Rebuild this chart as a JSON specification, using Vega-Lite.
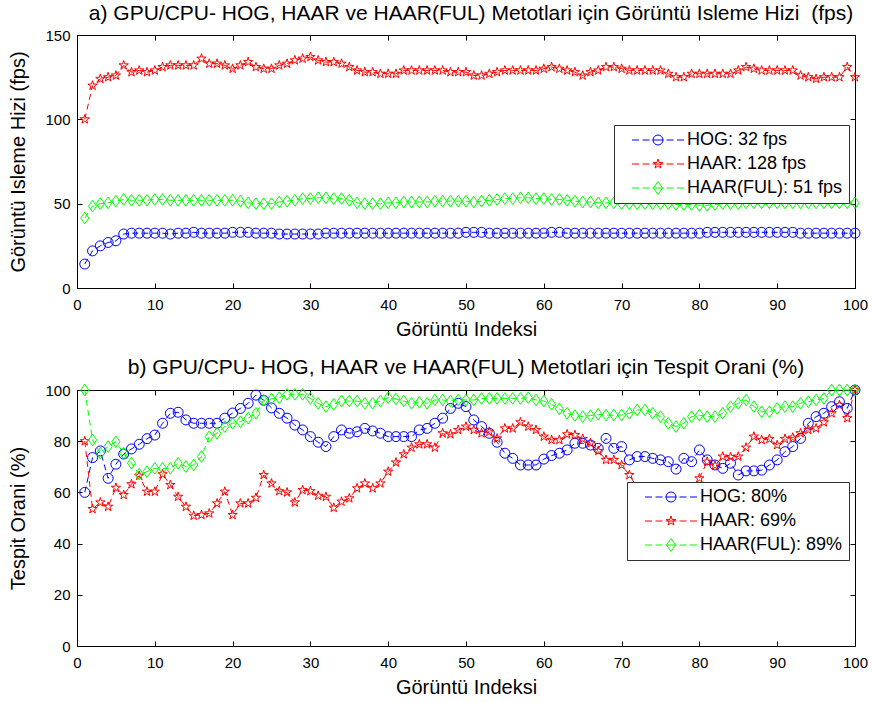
{
  "$schema": "https://vega.github.io/schema/vega-lite/v6.json",
  "background": "white",
  "padding": {"left": 8, "top": 2, "right": 5, "bottom": 5},
  "spacing": 102,
  "bounds": "flush",
  "resolve": {"scale": {"color": "independent", "shape": "independent"}},
  "datasets": {
    "fps": [
      {"x":1,"hog":14.2,"haar":100,"ful":41.5},{"x":2,"hog":22,"haar":120,"ful":48.5},{"x":3,"hog":25,"haar":124,"ful":50},{"x":4,"hog":27,"haar":125,"ful":50.5},{"x":5,"hog":28,"haar":126,"ful":51.5},
      {"x":6,"hog":32,"haar":132,"ful":52.5},{"x":7,"hog":32.5,"haar":128,"ful":52},{"x":8,"hog":32.5,"haar":129,"ful":52},{"x":9,"hog":32.5,"haar":128,"ful":52},{"x":10,"hog":32.5,"haar":129,"ful":52.5},
      {"x":11,"hog":32.5,"haar":131,"ful":52.5},{"x":12,"hog":32,"haar":132,"ful":52},{"x":13,"hog":32.5,"haar":132,"ful":52},{"x":14,"hog":32.5,"haar":132,"ful":52},{"x":15,"hog":33,"haar":132,"ful":52},
      {"x":16,"hog":32.5,"haar":136,"ful":52},{"x":17,"hog":32.5,"haar":133,"ful":52},{"x":18,"hog":32.5,"haar":133,"ful":52},{"x":19,"hog":32.5,"haar":132,"ful":52},{"x":20,"hog":33,"haar":130,"ful":52},
      {"x":21,"hog":33,"haar":132,"ful":51.5},{"x":22,"hog":33,"haar":134,"ful":50.5},{"x":23,"hog":32.5,"haar":131,"ful":50},{"x":24,"hog":32.5,"haar":130,"ful":50},{"x":25,"hog":32.5,"haar":130,"ful":50},
      {"x":26,"hog":32,"haar":132,"ful":51},{"x":27,"hog":32,"haar":133,"ful":51.5},{"x":28,"hog":32,"haar":135,"ful":52},{"x":29,"hog":32,"haar":136,"ful":53},{"x":30,"hog":32,"haar":137,"ful":53},
      {"x":31,"hog":32,"haar":135,"ful":53.5},{"x":32,"hog":32.5,"haar":134,"ful":53.5},{"x":33,"hog":32.5,"haar":134,"ful":53},{"x":34,"hog":32.5,"haar":133,"ful":53},{"x":35,"hog":32.5,"haar":131,"ful":52},
      {"x":36,"hog":32.5,"haar":129,"ful":50.5},{"x":37,"hog":32.5,"haar":128,"ful":50},{"x":38,"hog":32.5,"haar":128,"ful":50},{"x":39,"hog":32.5,"haar":127,"ful":50},{"x":40,"hog":32.5,"haar":127,"ful":50.5},
      {"x":41,"hog":32.5,"haar":127,"ful":50.5},{"x":42,"hog":32.5,"haar":129,"ful":51},{"x":43,"hog":32.5,"haar":129,"ful":51},{"x":44,"hog":32.5,"haar":129,"ful":51},{"x":45,"hog":32.5,"haar":129,"ful":51},
      {"x":46,"hog":32.5,"haar":129,"ful":51.5},{"x":47,"hog":32.5,"haar":129,"ful":51.5},{"x":48,"hog":32.5,"haar":128,"ful":51.5},{"x":49,"hog":32.5,"haar":128,"ful":51.5},{"x":50,"hog":33,"haar":128,"ful":51.5},
      {"x":51,"hog":33,"haar":126,"ful":51},{"x":52,"hog":33,"haar":126,"ful":51.5},{"x":53,"hog":32.5,"haar":127,"ful":52},{"x":54,"hog":32.5,"haar":128,"ful":52.5},{"x":55,"hog":32.5,"haar":129,"ful":53},
      {"x":56,"hog":32.5,"haar":129,"ful":53},{"x":57,"hog":32.5,"haar":129,"ful":53.5},{"x":58,"hog":32.5,"haar":129,"ful":53.5},{"x":59,"hog":32.5,"haar":129,"ful":53},{"x":60,"hog":32.5,"haar":130,"ful":53},
      {"x":61,"hog":33,"haar":131,"ful":52.5},{"x":62,"hog":33,"haar":130,"ful":52.5},{"x":63,"hog":32.5,"haar":129,"ful":52},{"x":64,"hog":32.5,"haar":128,"ful":51.5},{"x":65,"hog":32.5,"haar":126,"ful":51},
      {"x":66,"hog":32.5,"haar":128,"ful":51},{"x":67,"hog":32.5,"haar":129,"ful":50.5},{"x":68,"hog":32.5,"haar":131,"ful":50.5},{"x":69,"hog":32.5,"haar":131,"ful":50.5},{"x":70,"hog":32.5,"haar":130,"ful":50},
      {"x":71,"hog":32.5,"haar":129,"ful":50},{"x":72,"hog":32.5,"haar":129,"ful":50},{"x":73,"hog":32.5,"haar":129,"ful":50},{"x":74,"hog":32.5,"haar":129,"ful":50},{"x":75,"hog":32.5,"haar":129,"ful":50},
      {"x":76,"hog":32.5,"haar":127,"ful":50},{"x":77,"hog":32.5,"haar":125,"ful":49.5},{"x":78,"hog":32.5,"haar":125,"ful":49.5},{"x":79,"hog":32.5,"haar":127,"ful":49.5},{"x":80,"hog":32.5,"haar":127,"ful":49},
      {"x":81,"hog":33,"haar":127,"ful":49},{"x":82,"hog":33,"haar":127,"ful":49.5},{"x":83,"hog":33,"haar":127,"ful":50},{"x":84,"hog":33,"haar":127,"ful":50},{"x":85,"hog":33,"haar":129,"ful":50},
      {"x":86,"hog":33,"haar":131,"ful":50.5},{"x":87,"hog":33,"haar":130,"ful":50.5},{"x":88,"hog":33,"haar":129,"ful":50.5},{"x":89,"hog":33,"haar":129,"ful":50.5},{"x":90,"hog":33,"haar":129,"ful":50.5},
      {"x":91,"hog":33,"haar":129,"ful":50.5},{"x":92,"hog":33,"haar":129,"ful":50.5},{"x":93,"hog":32.5,"haar":126,"ful":50.5},{"x":94,"hog":32.5,"haar":125,"ful":50.5},{"x":95,"hog":32.5,"haar":124,"ful":50.5},
      {"x":96,"hog":32.5,"haar":125,"ful":50.5},{"x":97,"hog":32.5,"haar":125,"ful":50.5},{"x":98,"hog":32.5,"haar":125,"ful":50.5},{"x":99,"hog":32.5,"haar":131,"ful":50.5},{"x":100,"hog":32.5,"haar":125,"ful":50.5}
    ],
    "rate": [
      {"x":1,"hog":60,"haar":80,"ful":100},{"x":2,"hog":73.6,"haar":53.5,"ful":80.5},{"x":3,"hog":76.2,"haar":56.1,"ful":75.3},{"x":4,"hog":65.5,"haar":54.4,"ful":77.9},{"x":5,"hog":71,"haar":61.8,"ful":79.8},
      {"x":6,"hog":75,"haar":59,"ful":75.3},{"x":7,"hog":77,"haar":63.2,"ful":71.4},{"x":8,"hog":78.8,"haar":66.5,"ful":67.1},{"x":9,"hog":81,"haar":60.3,"ful":68.1},{"x":10,"hog":82.4,"haar":60.3,"ful":69.4},
      {"x":11,"hog":87,"haar":67.1,"ful":69.4},{"x":12,"hog":90.9,"haar":62.9,"ful":69.4},{"x":13,"hog":91.3,"haar":58.3,"ful":71.4},{"x":14,"hog":88.3,"haar":54.4,"ful":70.1},{"x":15,"hog":87,"haar":50.9,"ful":70.7},
      {"x":16,"hog":87,"haar":51.2,"ful":74},{"x":17,"hog":87,"haar":51.8,"ful":81.8},{"x":18,"hog":87,"haar":55.7,"ful":83.1},{"x":19,"hog":89,"haar":60.3,"ful":85.7},{"x":20,"hog":91,"haar":51.2,"ful":87},
      {"x":21,"hog":92.8,"haar":55.7,"ful":87.6},{"x":22,"hog":94.8,"haar":55.7,"ful":89},{"x":23,"hog":98,"haar":57.9,"ful":90.9},{"x":24,"hog":96,"haar":66.8,"ful":96},{"x":25,"hog":93,"haar":63.5,"ful":96.5},
      {"x":26,"hog":90.9,"haar":60.5,"ful":97},{"x":27,"hog":89,"haar":60,"ful":98.3},{"x":28,"hog":86.3,"haar":56.1,"ful":98.3},{"x":29,"hog":84.4,"haar":60.9,"ful":98.3},{"x":30,"hog":81.8,"haar":60.5,"ful":96.7},
      {"x":31,"hog":79.6,"haar":58.7,"ful":94.8},{"x":32,"hog":77.9,"haar":58.3,"ful":93.5},{"x":33,"hog":81.8,"haar":54,"ful":94.4},{"x":34,"hog":84.4,"haar":56.4,"ful":95.7},{"x":35,"hog":83.1,"haar":57.7,"ful":95.7},
      {"x":36,"hog":83.7,"haar":61.6,"ful":95.7},{"x":37,"hog":85,"haar":63.5,"ful":94.8},{"x":38,"hog":84,"haar":61.6,"ful":94.8},{"x":39,"hog":83.1,"haar":63.5,"ful":95.7},{"x":40,"hog":81.8,"haar":68.1,"ful":97},
      {"x":41,"hog":81.8,"haar":71.7,"ful":96.5},{"x":42,"hog":81.8,"haar":74.9,"ful":95.7},{"x":43,"hog":81.8,"haar":77.5,"ful":94.8},{"x":44,"hog":84.4,"haar":78.8,"ful":95.2},{"x":45,"hog":85,"haar":78.8,"ful":94.8},
      {"x":46,"hog":87,"haar":77.5,"ful":96.1},{"x":47,"hog":89,"haar":83.1,"ful":96.1},{"x":48,"hog":92.8,"haar":82.7,"ful":95.7},{"x":49,"hog":94.8,"haar":84.4,"ful":96.1},{"x":50,"hog":93.5,"haar":85.7,"ful":96.1},
      {"x":51,"hog":88.3,"haar":84.4,"ful":96.1},{"x":52,"hog":85.7,"haar":83.1,"ful":96.7},{"x":53,"hog":83.1,"haar":83.7,"ful":96.7},{"x":54,"hog":79.6,"haar":81.1,"ful":96.7},{"x":55,"hog":75.3,"haar":85,"ful":96.7},
      {"x":56,"hog":73.3,"haar":85,"ful":96.7},{"x":57,"hog":70.7,"haar":87.4,"ful":96.7},{"x":58,"hog":70.7,"haar":85.7,"ful":97},{"x":59,"hog":70.7,"haar":84.4,"ful":96.1},{"x":60,"hog":73,"haar":81.8,"ful":95.7},
      {"x":61,"hog":74.4,"haar":80.5,"ful":94.4},{"x":62,"hog":75.3,"haar":80.5,"ful":92.6},{"x":63,"hog":76.6,"haar":82.7,"ful":90.9},{"x":64,"hog":79.2,"haar":82.4,"ful":90},{"x":65,"hog":79.2,"haar":80.9,"ful":89.6},
      {"x":66,"hog":78.5,"haar":79.2,"ful":90},{"x":67,"hog":77.2,"haar":76.2,"ful":90.5},{"x":68,"hog":81.1,"haar":72.7,"ful":90.2},{"x":69,"hog":77.2,"haar":72.7,"ful":90.2},{"x":70,"hog":77.9,"haar":70.7,"ful":90.2},
      {"x":71,"hog":72.7,"haar":66.8,"ful":90.9},{"x":72,"hog":74,"haar":62,"ful":92.2},{"x":73,"hog":74,"haar":60,"ful":92.2},{"x":74,"hog":73.3,"haar":57,"ful":90.9},{"x":75,"hog":72.7,"haar":56,"ful":89.6},
      {"x":76,"hog":72,"haar":58,"ful":87},{"x":77,"hog":69.1,"haar":60,"ful":85.7},{"x":78,"hog":73.3,"haar":59,"ful":87},{"x":79,"hog":72,"haar":62,"ful":89.6},{"x":80,"hog":76.6,"haar":65.5,"ful":90.2},
      {"x":81,"hog":72.7,"haar":72,"ful":89.6},{"x":82,"hog":70.7,"haar":70.5,"ful":89.6},{"x":83,"hog":69.4,"haar":74,"ful":90.9},{"x":84,"hog":71.4,"haar":73.8,"ful":93.5},{"x":85,"hog":66.8,"haar":74,"ful":94.8},
      {"x":86,"hog":68.4,"haar":77.5,"ful":96.1},{"x":87,"hog":68.4,"haar":81.8,"ful":93.5},{"x":88,"hog":68.7,"haar":80.5,"ful":91.5},{"x":89,"hog":70.7,"haar":80.9,"ful":91.5},{"x":90,"hog":72.7,"haar":78.5,"ful":92.8},
      {"x":91,"hog":75.9,"haar":80.9,"ful":93.5},{"x":92,"hog":77.9,"haar":81.4,"ful":93.5},{"x":93,"hog":81.1,"haar":83.1,"ful":94.8},{"x":94,"hog":87,"haar":84.4,"ful":95.4},{"x":95,"hog":89.6,"haar":85,"ful":96.1},
      {"x":96,"hog":90.9,"haar":87.4,"ful":96.7},{"x":97,"hog":93.5,"haar":90.9,"ful":100},{"x":98,"hog":95.4,"haar":94.1,"ful":100},{"x":99,"hog":92.8,"haar":89,"ful":100},{"x":100,"hog":100,"haar":100,"ful":100}
    ]
  },
  "vconcat": [
    {
      "width": 778,
      "height": 253,
      "data": {"name": "fps"},
      "title": {"text": "a) GPU/CPU- HOG, HAAR ve HAAR(FUL) Metotlari için Görüntü Isleme Hizi \u00a0(fps)", "dx": 5},
      "resolve": {"axis": {"x": "independent", "y": "independent"}},
      "layer": [
        {"mark": {"type": "line", "color": "#0000ff", "strokeDash": [6, 4], "strokeWidth": 1},
         "encoding": {
           "x": {"field": "x", "type": "quantitative", "scale": {"domain": [0, 100], "nice": false}, "axis": {"values": [0,10,20,30,40,50,60,70,80,90,100], "title": "Görüntü Indeksi"}},
           "y": {"field": "hog", "type": "quantitative", "scale": {"domain": [0, 150], "nice": false}, "axis": {"values": [0,50,100,150], "title": "Görüntü Isleme Hizi (fps)"}}}},
        {"mark": {"type": "line", "color": "#ff0000", "strokeDash": [6, 4], "strokeWidth": 1},
         "encoding": {"x": {"field": "x", "type": "quantitative", "axis": null}, "y": {"field": "haar", "type": "quantitative", "axis": null}}},
        {"mark": {"type": "line", "color": "#00ff00", "strokeDash": [6, 4], "strokeWidth": 1},
         "encoding": {"x": {"field": "x", "type": "quantitative", "axis": null}, "y": {"field": "ful", "type": "quantitative", "axis": null}}},
        {"mark": {"type": "point", "shape": "M-1,0A1,1,0,1,0,1,0A1,1,0,1,0,-1,0Z", "filled": false, "color": "#0000ff", "size": 100, "strokeWidth": 1, "opacity": 1},
         "encoding": {
           "x": {"field": "x", "type": "quantitative", "axis": {"orient": "top", "values": [0,10,20,30,40,50,60,70,80,90,100], "labels": false, "title": null}},
           "y": {"field": "hog", "type": "quantitative", "axis": {"orient": "right", "values": [0,50,100,150], "labels": false, "title": null}}}},
        {"mark": {"type": "point", "shape": "M0,-1L0.225,-0.309L0.951,-0.309L0.363,0.118L0.588,0.809L0,0.382L-0.588,0.809L-0.363,0.118L-0.951,-0.309L-0.225,-0.309Z", "filled": false, "color": "#ff0000", "size": 95, "strokeWidth": 1, "opacity": 1},
         "encoding": {"x": {"field": "x", "type": "quantitative", "axis": null}, "y": {"field": "haar", "type": "quantitative", "axis": null}}},
        {"mark": {"type": "point", "shape": "M0,-1.3L0.9,0L0,1.3L-0.9,0Z", "filled": false, "color": "#00ff00", "size": 81, "strokeWidth": 1, "opacity": 1},
         "encoding": {"x": {"field": "x", "type": "quantitative", "axis": null}, "y": {"field": "ful", "type": "quantitative", "axis": null}}},
        {"transform": [{"fold": ["hog", "haar", "ful"], "as": ["series", "v"]}, {"filter": "datum.x < 0"}],
         "mark": {"type": "point", "filled": false, "strokeWidth": 1, "opacity": 1},
         "encoding": {
           "x": {"field": "x", "type": "quantitative", "axis": null},
           "y": {"field": "v", "type": "quantitative", "axis": null},
           "color": {"field": "series", "type": "nominal", "scale": {"domain": ["hog", "haar", "ful"], "range": ["#0000ff", "#ff0000", "#00ff00"]},
             "legend": {"orient": "none", "legendX": 537, "legendY": 90, "title": null, "labelExpr": "datum.value == 'hog' ? 'HOG: 32 fps' : datum.value == 'haar' ? 'HAAR: 128 fps' : 'HAAR(FUL): 51 fps'"}},
           "shape": {"field": "series", "type": "nominal", "scale": {"domain": ["hog", "haar", "ful"], "range": [
             "M-5.2,0H-3.8M-3.1,0H-1.7M-1.1,0H1.1M1.7,0H3.1M3.8,0H5.2M-1,0A1,1,0,1,0,1,0A1,1,0,1,0,-1,0Z",
             "M-5.2,0H-3.8M-3.1,0H-1.7M-1.1,0H1.1M1.7,0H3.1M3.8,0H5.2M0,-1L0.225,-0.309L0.951,-0.309L0.363,0.118L0.588,0.809L0,0.382L-0.588,0.809L-0.363,0.118L-0.951,-0.309L-0.225,-0.309Z",
             "M-5.2,0H-3.8M-3.1,0H-1.7M-1.1,0H1.1M1.7,0H3.1M3.8,0H5.2M0,-1.3L0.9,0L0,1.3L-0.9,0Z"]},
             "legend": {"orient": "none", "legendX": 537, "legendY": 90, "title": null, "labelExpr": "datum.value == 'hog' ? 'HOG: 32 fps' : datum.value == 'haar' ? 'HAAR: 128 fps' : 'HAAR(FUL): 51 fps'"}}}}
      ]
    },
    {
      "width": 778,
      "height": 256,
      "data": {"name": "rate"},
      "title": {"text": "b) GPU/CPU- HOG, HAAR ve HAAR(FUL) Metotlari için Tespit Orani (%)"},
      "resolve": {"axis": {"x": "independent", "y": "independent"}},
      "layer": [
        {"mark": {"type": "line", "color": "#0000ff", "strokeDash": [6, 4], "strokeWidth": 1},
         "encoding": {
           "x": {"field": "x", "type": "quantitative", "scale": {"domain": [0, 100], "nice": false}, "axis": {"values": [0,10,20,30,40,50,60,70,80,90,100], "title": "Görüntü Indeksi"}},
           "y": {"field": "hog", "type": "quantitative", "scale": {"domain": [0, 100], "nice": false}, "axis": {"values": [0,20,40,60,80,100], "title": "Tespit Orani (%)"}}}},
        {"mark": {"type": "line", "color": "#ff0000", "strokeDash": [6, 4], "strokeWidth": 1},
         "encoding": {"x": {"field": "x", "type": "quantitative", "axis": null}, "y": {"field": "haar", "type": "quantitative", "axis": null}}},
        {"mark": {"type": "line", "color": "#00ff00", "strokeDash": [6, 4], "strokeWidth": 1},
         "encoding": {"x": {"field": "x", "type": "quantitative", "axis": null}, "y": {"field": "ful", "type": "quantitative", "axis": null}}},
        {"mark": {"type": "point", "shape": "M-1,0A1,1,0,1,0,1,0A1,1,0,1,0,-1,0Z", "filled": false, "color": "#0000ff", "size": 100, "strokeWidth": 1, "opacity": 1},
         "encoding": {
           "x": {"field": "x", "type": "quantitative", "axis": {"orient": "top", "values": [0,10,20,30,40,50,60,70,80,90,100], "labels": false, "title": null}},
           "y": {"field": "hog", "type": "quantitative", "axis": {"orient": "right", "values": [0,20,40,60,80,100], "labels": false, "title": null}}}},
        {"mark": {"type": "point", "shape": "M0,-1L0.225,-0.309L0.951,-0.309L0.363,0.118L0.588,0.809L0,0.382L-0.588,0.809L-0.363,0.118L-0.951,-0.309L-0.225,-0.309Z", "filled": false, "color": "#ff0000", "size": 95, "strokeWidth": 1, "opacity": 1},
         "encoding": {"x": {"field": "x", "type": "quantitative", "axis": null}, "y": {"field": "haar", "type": "quantitative", "axis": null}}},
        {"mark": {"type": "point", "shape": "M0,-1.3L0.9,0L0,1.3L-0.9,0Z", "filled": false, "color": "#00ff00", "size": 81, "strokeWidth": 1, "opacity": 1},
         "encoding": {"x": {"field": "x", "type": "quantitative", "axis": null}, "y": {"field": "ful", "type": "quantitative", "axis": null}}},
        {"transform": [{"fold": ["hog", "haar", "ful"], "as": ["series", "v"]}, {"filter": "datum.x < 0"}],
         "mark": {"type": "point", "filled": false, "strokeWidth": 1, "opacity": 1},
         "encoding": {
           "x": {"field": "x", "type": "quantitative", "axis": null},
           "y": {"field": "v", "type": "quantitative", "axis": null},
           "color": {"field": "series", "type": "nominal", "scale": {"domain": ["hog", "haar", "ful"], "range": ["#0000ff", "#ff0000", "#00ff00"]},
             "legend": {"orient": "none", "legendX": 550, "legendY": 92, "title": null, "labelExpr": "datum.value == 'hog' ? 'HOG: 80%' : datum.value == 'haar' ? 'HAAR: 69%' : 'HAAR(FUL): 89%'"}},
           "shape": {"field": "series", "type": "nominal", "scale": {"domain": ["hog", "haar", "ful"], "range": [
             "M-5.2,0H-3.8M-3.1,0H-1.7M-1.1,0H1.1M1.7,0H3.1M3.8,0H5.2M-1,0A1,1,0,1,0,1,0A1,1,0,1,0,-1,0Z",
             "M-5.2,0H-3.8M-3.1,0H-1.7M-1.1,0H1.1M1.7,0H3.1M3.8,0H5.2M0,-1L0.225,-0.309L0.951,-0.309L0.363,0.118L0.588,0.809L0,0.382L-0.588,0.809L-0.363,0.118L-0.951,-0.309L-0.225,-0.309Z",
             "M-5.2,0H-3.8M-3.1,0H-1.7M-1.1,0H1.1M1.7,0H3.1M3.8,0H5.2M0,-1.3L0.9,0L0,1.3L-0.9,0Z"]},
             "legend": {"orient": "none", "legendX": 550, "legendY": 92, "title": null, "labelExpr": "datum.value == 'hog' ? 'HOG: 80%' : datum.value == 'haar' ? 'HAAR: 69%' : 'HAAR(FUL): 89%'"}}}}
      ]
    }
  ],
  "config": {
    "font": "Liberation Sans",
    "view": {"stroke": "black", "strokeWidth": 1},
    "title": {"font": "Liberation Sans", "fontSize": 21, "fontWeight": "normal", "color": "black", "anchor": "middle", "offset": 4},
    "axis": {"grid": false, "domainColor": "black", "tickColor": "black", "labelColor": "black", "titleColor": "black",
      "labelFont": "Liberation Sans", "titleFont": "Liberation Sans", "labelFontSize": 15, "titleFontSize": 20, "titleFontWeight": "normal",
      "tickSize": -5, "labelFlush": false, "labelOverlap": false},
    "axisX": {"labelPadding": 14, "titlePadding": 7},
    "axisY": {"labelPadding": 12, "titlePadding": 16},
    "legend": {"fillColor": "white", "strokeColor": "#333333", "padding": 6, "labelFont": "Liberation Sans", "labelFontSize": 18, "labelColor": "black",
      "symbolSize": 100, "symbolStrokeWidth": 1, "rowPadding": 6, "symbolOffset": 29, "labelOffset": 20, "cornerRadius": 0}
  }
}
